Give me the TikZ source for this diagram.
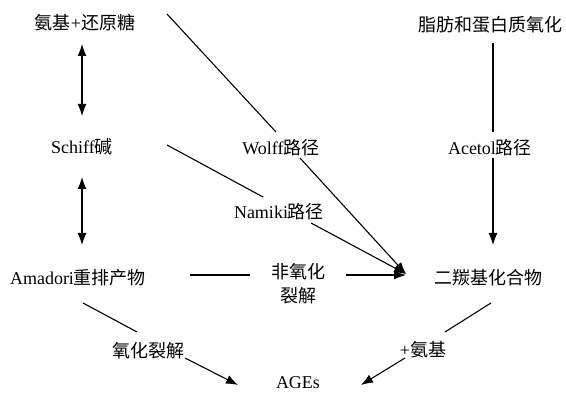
\documentclass[tikz,border=0pt]{standalone}
\usepackage{fontspec}
\setmainfont{Liberation Serif}
\newfontfamily\cjk{Noto Sans CJK SC}
\usetikzlibrary{arrows.meta}
\begin{document}
\begin{tikzpicture}[x=1pt,y=-1pt,
  lbl/.style={inner sep=0pt, font=\fontsize{18}{26}\selectfont, align=center},
  conn/.style={line width=1.1pt},
  arr/.style={conn,-{Latex[length=12pt,width=9pt]}},
  darr/.style={conn,{Latex[length=12pt,width=9pt]}-{Latex[length=12pt,width=9pt]}}]
\useasboundingbox (0,0) rectangle (566,393);
% nodes
\node[lbl] (sugar)   at (85,23)  {{\cjk 氨基}+{\cjk 还原糖}};
\node[lbl] (lipid)   at (490,25) {\cjk 脂肪和蛋白质氧化};
\node[lbl] (schiff)  at (82,147) {Schiff{\cjk 碱}};
\node[lbl] (wolff)   at (281,148) {Wolff{\cjk 路径}};
\node[lbl] (acetol)  at (490,148) {Acetol{\cjk 路径}};
\node[lbl] (namiki)  at (279,212) {Namiki{\cjk 路径}};
\node[lbl] (amadori) at (78,278) {Amadori{\cjk 重排产物}};
\node[lbl] (nonox)   at (298,284) {\cjk 非氧化\\[-2pt]\cjk 裂解};
\node[lbl] (dicarb)  at (488,278) {\cjk 二羰基化合物};
\node[lbl] (oxcl)    at (148,351) {\cjk 氧化裂解};
\node[lbl] (amino)   at (423,350) {+{\cjk 氨基}};
\node[lbl] (ages)    at (298,383) {AGEs};
% connector end points
\coordinate (hub) at (406,274);
\coordinate (s1) at (82,44);   \coordinate (s2) at (82,116);
\coordinate (s3) at (82,177);  \coordinate (s4) at (82,245);
\coordinate (w1) at (167,14);  \coordinate (w2) at (276,132);
\coordinate (w3) at (300,158);
\coordinate (n1) at (167,145); \coordinate (n2) at (263,197);
\coordinate (n3) at (311,223);
\coordinate (h1) at (190,275); \coordinate (h2) at (250,275);
\coordinate (h3) at (346,275); \coordinate (h4) at (406,275);
\coordinate (a1) at (493,43);  \coordinate (a2) at (493,132);
\coordinate (a3) at (493,158); \coordinate (a4) at (493,245);
\coordinate (o1) at (83,303);  \coordinate (o2) at (137,332);
\coordinate (o3) at (185,358); \coordinate (o4) at (238,385);
\coordinate (m1) at (491,303); \coordinate (m2) at (445,332);
\coordinate (m3) at (405,358); \coordinate (m4) at (361,385);
% connectors
\draw[darr] (s1) -- (s2);
\draw[darr] (s3) -- (s4);
\draw[conn] (w1) -- (w2);
\draw[arr]  (w3) -- (hub);
\draw[conn] (n1) -- (n2);
\draw[arr]  (n3) -- (hub);
\draw[conn] (h1) -- (h2);
\draw[arr]  (h3) -- (h4);
\draw[conn] (a1) -- (a2);
\draw[arr]  (a3) -- (a4);
\draw[conn] (o1) -- (o2);
\draw[arr]  (o3) -- (o4);
\draw[conn] (m1) -- (m2);
\draw[arr]  (m3) -- (m4);
\end{tikzpicture}
\end{document}
